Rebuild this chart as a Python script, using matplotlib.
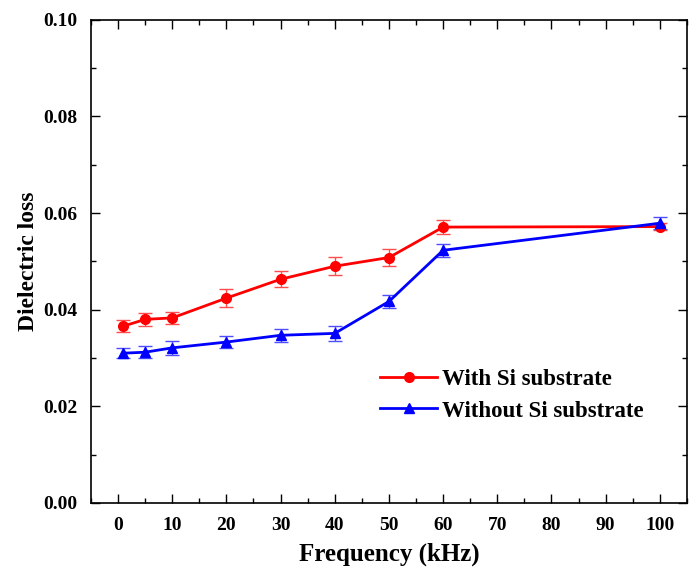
import matplotlib
matplotlib.use("Agg")
import matplotlib.pyplot as plt
from matplotlib.ticker import MultipleLocator
from matplotlib.lines import Line2D

freq = [1, 5, 10, 20, 30, 40, 50, 60, 100]
with_si = [0.0366, 0.0380, 0.0383, 0.0424, 0.0463, 0.0490, 0.0508, 0.0571, 0.0572]
with_si_err = [0.0013, 0.0014, 0.0012, 0.0018, 0.0017, 0.0019, 0.0018, 0.0014, 0.0008]
without_si = [0.0310, 0.0312, 0.0321, 0.0333, 0.0347, 0.0351, 0.0417, 0.0523, 0.0579]
without_si_err = [0.0010, 0.0013, 0.0015, 0.0012, 0.0014, 0.0015, 0.0014, 0.0013, 0.0012]
xticks = [0, 10, 20, 30, 40, 50, 60, 70, 80, 90, 100]
yticks = [0.00, 0.02, 0.04, 0.06, 0.08, 0.10]
labels = ['With Si substrate', 'Without Si substrate']

plt.rcParams['font.family'] = ['Liberation Serif', 'DejaVu Serif']
plt.rcParams['font.weight'] = 'bold'

fig = plt.figure(figsize=(6.89, 5.67), dpi=100)
ax = fig.add_axes([0.132, 0.113, 0.865, 0.852])

ax.errorbar(freq, with_si, yerr=with_si_err, color='#ff0000', ecolor='#ff4d4d',
            marker='o', markersize=7, lw=2, elinewidth=1, capsize=5, capthick=1)
ax.errorbar(freq, without_si, yerr=without_si_err, color='#0000ff', ecolor='#4d4dff',
            marker='^', markersize=7, lw=2, elinewidth=1, capsize=5, capthick=1)

ax.set_xlim(-5, 105)
ax.set_ylim(0, 0.10)
ax.set_xticks(xticks)
ax.set_yticks(yticks)
ax.set_yticklabels([f"{v:.2f}" for v in yticks])
ax.xaxis.set_minor_locator(MultipleLocator(5))
ax.yaxis.set_minor_locator(MultipleLocator(0.01))
ax.tick_params(which='both', direction='in', top=True, right=True, labelsize=14, width=1)
ax.tick_params(which='major', length=6.5)
ax.tick_params(which='minor', length=3.6)
ax.tick_params(axis='x', pad=10)
ax.tick_params(axis='y', pad=10)
for s in ax.spines.values():
    s.set_linewidth(1.2)

ax.set_xlabel('Frequency (kHz)', fontsize=18, fontweight='bold', labelpad=6)
ax.set_ylabel('Dielectric loss', fontsize=17, fontweight='bold', labelpad=3)

handles = [Line2D([], [], color='#ff0000', marker='o', markersize=7, lw=2),
           Line2D([], [], color='#0000ff', marker='^', markersize=7, lw=2)]
ax.legend(handles, labels, loc='upper left', bbox_to_anchor=(0.485, 0.277),
          frameon=False, prop={'size': 16.5, 'weight': 'bold'}, handlelength=2.5,
          handletextpad=0.2, labelspacing=0.45, borderpad=0, borderaxespad=0)

fig.savefig('out.png', dpi=100)
